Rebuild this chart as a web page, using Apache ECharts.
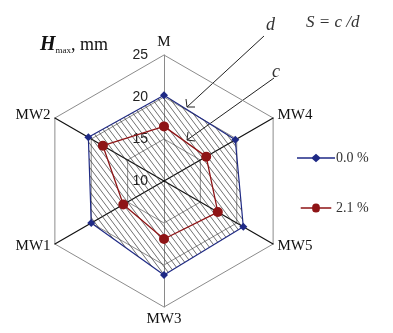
<!DOCTYPE html>
<html>
<head>
<meta charset="utf-8">
<script src="https://cdn.jsdelivr.net/npm/echarts@6/dist/echarts.min.js"></script>
<style>
  html, body { margin: 0; padding: 0; background: #fff; }
  #chart { width: 393px; height: 333px; }
</style>
</head>
<body>
<div id="chart"></div>
<script>
// Radar axes, listed counter-clockwise from the top
const axes = ['M', 'MW2', 'MW1', 'MW3', 'MW5', 'MW4'];
const axisMin = 10;
const axisMax = 25;
const tickStep = 5;

// H_max (mm) per sample for each additive content
const series0 = [20.2, 20.4, 20.0, 21.2, 20.9, 19.8];   // 0.0 %
const series1 = [16.5, 18.4, 15.6, 16.9, 17.4, 15.8];   // 2.1 %
const seriesNames = ['0.0 %', '2.1 %'];

const serif = 'Liberation Serif, Times New Roman, serif';
const navy = '#1f2a86';
const darkRed = '#8e1416';

// diagonal hatch used to shade the 0.0 % polygon
function hatchPattern() {
  const w = 6, h = 8;
  const c = document.createElement('canvas');
  c.width = w; c.height = h;
  const ctx = c.getContext('2d');
  ctx.strokeStyle = 'rgba(55,55,55,0.9)';
  ctx.lineWidth = 0.8;
  [-w, 0, w].forEach(function (off) {
    ctx.beginPath();
    ctx.moveTo(off, 0);
    ctx.lineTo(off + w, h);
    ctx.stroke();
  });
  return c;
}

const chart = echarts.init(document.getElementById('chart'), null, { renderer: 'canvas' });

const indicator = axes.map(function (name, i) {
  const ind = { name: name, min: axisMin, max: axisMax };
  if (name === 'M' || name === 'MW3') {
    ind.axisLine = { lineStyle: { color: '#8a8a8a', width: 1 } };
  }
  if (i === 0) {
    ind.axisLabel = {
      show: true, color: '#222', fontFamily: 'Liberation Sans, Arial, sans-serif',
      fontSize: 14, margin: 16
    };
  }
  return ind;
});

const option = {
  animation: false,
  backgroundColor: '#fff',
  title: {
    text: '{h|H}{sub|max}{mm|, mm}',
    left: 35, top: 30,
    textStyle: {
      fontWeight: 'normal',
      rich: {
        h: { fontFamily: serif, fontStyle: 'italic', fontWeight: 'bold', fontSize: 20, color: '#111' },
        sub: { fontFamily: serif, fontWeight: 'normal', fontSize: 9, color: '#111', verticalAlign: 'bottom', padding: [8, 0, 0, 0] },
        mm: { fontFamily: serif, fontWeight: 'normal', fontSize: 18, color: '#111' }
      }
    }
  },
  legend: {
    orient: 'vertical',
    left: 292, top: 146,
    itemGap: 36,
    itemWidth: 38, itemHeight: 9,
    data: [
      { name: seriesNames[0], icon: 'path://M0,3.5H15L19,0L23,3.5H38V5H23L19,8.5L15,5H0Z' },
      { name: seriesNames[1], icon: 'path://M0,3.6H14.2A4.8,4.8 0 0 1 23.8,3.6H38V5.2H23.8A4.8,4.8 0 0 1 14.2,5.2H0Z' }
    ],
    textStyle: { fontFamily: serif, fontSize: 14, color: '#333', padding: [0, 0, 0, -4] }
  },
  radar: {
    center: [164, 181],
    radius: 126,
    startAngle: 90,
    splitNumber: (axisMax - axisMin) / tickStep,
    shape: 'polygon',
    indicator: indicator,
    axisName: { color: '#111', fontFamily: serif, fontSize: 15 },
    nameGap: 5,
    axisLine: { show: true, lineStyle: { color: '#111', width: 1.2 } },
    axisTick: { show: false },
    axisLabel: { show: false },
    splitLine: { show: true, lineStyle: { color: '#8c8c8c', width: 1 } },
    splitArea: { show: false }
  },
  series: [{
    type: 'radar',
    z: 2,
    data: [
      {
        name: seriesNames[0],
        value: series0,
        symbol: 'diamond', symbolSize: 8,
        lineStyle: { color: navy, width: 1.2 },
        itemStyle: { color: navy },
        areaStyle: { color: { image: hatchPattern(), repeat: 'repeat' }, opacity: 1 }
      },
      {
        name: seriesNames[1],
        value: series1,
        symbol: 'circle', symbolSize: 10,
        lineStyle: { color: darkRed, width: 1.3 },
        itemStyle: { color: darkRed }
      }
    ]
  }],
  graphic: [
    // formula and pointer annotations
    { type: 'text', left: 306, top: 14, style: { text: 'S = c /d', font: 'italic 17px ' + serif, fill: '#333' } },
    { type: 'text', left: 266, top: 16, style: { text: 'd', font: 'italic 18px ' + serif, fill: '#333' } },
    { type: 'text', left: 272, top: 63, style: { text: 'c', font: 'italic 18px ' + serif, fill: '#333' } },
    { type: 'line', shape: { x1: 264, y1: 36, x2: 187, y2: 107 }, style: { stroke: '#222', lineWidth: 1 } },
    { type: 'polyline', shape: { points: [[186, 99], [187, 107], [195, 107]] }, style: { stroke: '#222', lineWidth: 1, fill: null } },
    { type: 'line', shape: { x1: 274, y1: 78, x2: 187, y2: 140 }, style: { stroke: '#222', lineWidth: 1 } },
    { type: 'polyline', shape: { points: [[188, 132], [187, 140], [195, 141]] }, style: { stroke: '#222', lineWidth: 1, fill: null } }
  ]
};

chart.setOption(option);
</script>
</body>
</html>
